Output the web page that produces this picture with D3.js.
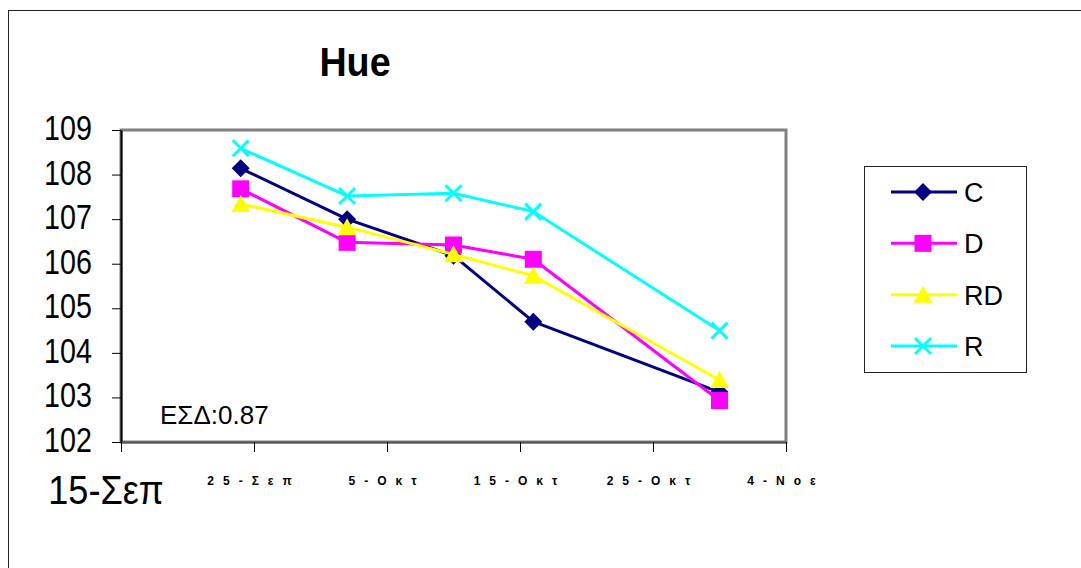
<!DOCTYPE html>
<html>
<head>
<meta charset="utf-8">
<script src="https://cdn.jsdelivr.net/npm/d3@7"></script>
<style>
  body { margin: 0; background: #fff; }
  svg { display: block; font-family: Arial, "Liberation Sans", sans-serif; }
</style>
</head>
<body>
<div id="chart"></div>
<script>
// datos
var title = "Hue";
var note = "ΕΣΔ:0.87";
var seriesNames = ["C", "D", "RD", "R"];
var sampleDates = ["2005-09-24", "2005-10-02", "2005-10-10", "2005-10-16", "2005-10-30"];
var valuesC  = [108.14, 107.0, 106.18, 104.7, 103.12];
var valuesD  = [107.68, 106.48, 106.42, 106.1, 102.93];
var valuesRD = [107.34, 106.82, 106.21, 105.73, 103.39];
var valuesR  = [108.59, 107.52, 107.58, 107.17, 104.5];
var xTickDates  = ["2005-09-15", "2005-09-25", "2005-10-05", "2005-10-15", "2005-10-25", "2005-11-04"];
var xTickLabels = ["15-Σεπ", "25-Σεπ", "5-Οκτ", "15-Οκτ", "25-Οκτ", "4-Νοε"];
var yTicks = [102, 103, 104, 105, 106, 107, 108, 109];

// estilo
var colors  = ["#000080", "#FF00FF", "#FFFF00", "#00FFFF"];
var markers = ["diamond", "square", "triangle", "cross"];

var W = 1081, H = 568;
var plot = { left: 121, top: 130, right: 786, bottom: 442 };

var parse = d3.utcParse("%Y-%m-%d");
var allValues = [valuesC, valuesD, valuesRD, valuesR];

var x = d3.scaleUtc()
    .domain([parse(xTickDates[0]), parse(xTickDates[xTickDates.length - 1])])
    .range([plot.left, plot.right]);
var y = d3.scaleLinear()
    .domain([102, 109])
    .range([plot.bottom, plot.top]);

var svg = d3.select("#chart").append("svg")
    .attr("width", W).attr("height", H);

// marco exterior
svg.append("rect")
    .attr("x", 8.5).attr("y", 10.5)
    .attr("width", 1200).attr("height", 700)
    .attr("fill", "#fff").attr("stroke", "#222").attr("stroke-width", 1);

// titulo
svg.append("text")
    .attr("transform", "translate(355,76) scale(0.92,1)")
    .attr("text-anchor", "middle")
    .attr("font-size", 41).attr("font-weight", "bold")
    .text(title);

// area del grafico
svg.append("rect")
    .attr("x", plot.left).attr("y", plot.top)
    .attr("width", plot.right - plot.left).attr("height", plot.bottom - plot.top)
    .attr("fill", "#fff").attr("stroke", "#808080").attr("stroke-width", 3);

// ejes
var yAxis = svg.append("g")
    .attr("transform", "translate(" + plot.left + ",0)")
    .call(d3.axisLeft(y).tickValues(yTicks).tickSize(9).tickSizeOuter(0).tickFormat(""));
var xAxis = svg.append("g")
    .attr("transform", "translate(0," + plot.bottom + ")")
    .call(d3.axisBottom(x).tickValues(xTickDates.map(parse)).tickSize(10).tickSizeOuter(0).tickFormat(""));
yAxis.select(".domain").attr("stroke", "#000").attr("stroke-width", 2);
xAxis.select(".domain").attr("stroke", "#555").attr("stroke-width", 2);
svg.selectAll(".tick line").attr("stroke", "#000").attr("stroke-width", 1);

// etiquetas eje y
svg.append("g").selectAll("text")
    .data(yTicks)
    .enter().append("text")
    .attr("transform", function(d) { return "translate(92," + (y(d) + 10) + ") scale(0.82,1)"; })
    .attr("text-anchor", "end")
    .attr("font-size", 35)
    .text(function(d) { return d; });

// etiquetas eje x
svg.append("g").selectAll("text")
    .data(xTickLabels)
    .enter().append("text")
    .each(function(d, i) {
        var t = d3.select(this);
        if (i === 0) {
            t.attr("transform", "translate(106,504) scale(0.88,1)")
             .attr("text-anchor", "middle")
             .attr("font-size", 41);
        } else {
            t.attr("x", x(parse(xTickDates[i])))
             .attr("y", 485)
             .attr("text-anchor", "middle")
             .attr("font-size", 12)
             .attr("font-weight", "bold")
             .style("letter-spacing", "9px");
        }
    })
    .text(function(d) { return d; });

// nota
svg.append("text")
    .attr("x", 160).attr("y", 424)
    .attr("font-size", 26)
    .text(note);

// marcadores
function drawMarker(g, type, color) {
    if (type === "diamond") {
        g.append("path").attr("d", "M0,-9L9,0L0,9L-9,0Z").attr("fill", color);
    } else if (type === "square") {
        g.append("rect").attr("x", -8.5).attr("y", -8.5).attr("width", 17).attr("height", 17).attr("fill", color);
    } else if (type === "triangle") {
        g.append("path").attr("d", "M0,-9L9.5,8L-9.5,8Z").attr("fill", color);
    } else {
        g.append("path").attr("d", "M-8,-8L8,8M-8,8L8,-8")
            .attr("stroke", color).attr("stroke-width", 3).attr("fill", "none");
    }
}

var line = d3.line()
    .x(function(d) { return x(d.date); })
    .y(function(d) { return y(d.value); });

seriesNames.forEach(function(name, s) {
    var pts = sampleDates.map(function(dt, i) {
        return { date: parse(dt), value: allValues[s][i] };
    });
    var g = svg.append("g").attr("class", "serie");
    g.append("path")
        .datum(pts)
        .attr("d", line)
        .attr("fill", "none")
        .attr("stroke", colors[s])
        .attr("stroke-width", 3)
        .attr("stroke-linejoin", "round");
    g.selectAll(".mk")
        .data(pts)
        .enter().append("g")
        .attr("class", "mk")
        .attr("transform", function(d) { return "translate(" + x(d.date) + "," + y(d.value) + ")"; })
        .each(function() { drawMarker(d3.select(this), markers[s], colors[s]); });
});

// leyenda
var legend = svg.append("g");
legend.append("rect")
    .attr("x", 864.5).attr("y", 166.5)
    .attr("width", 162).attr("height", 206)
    .attr("fill", "#fff").attr("stroke", "#222").attr("stroke-width", 1);

var legendY = d3.scalePoint().domain(seriesNames).range([192, 346]);
seriesNames.forEach(function(name, s) {
    var row = legend.append("g").attr("transform", "translate(0," + legendY(name) + ")");
    row.append("line")
        .attr("x1", 891).attr("x2", 957)
        .attr("stroke", colors[s]).attr("stroke-width", 3);
    drawMarker(row.append("g").attr("transform", "translate(923,0)"), markers[s], colors[s]);
    row.append("text")
        .attr("x", 964).attr("y", 10)
        .attr("font-size", 27)
        .text(name);
});
</script>
</body>
</html>
